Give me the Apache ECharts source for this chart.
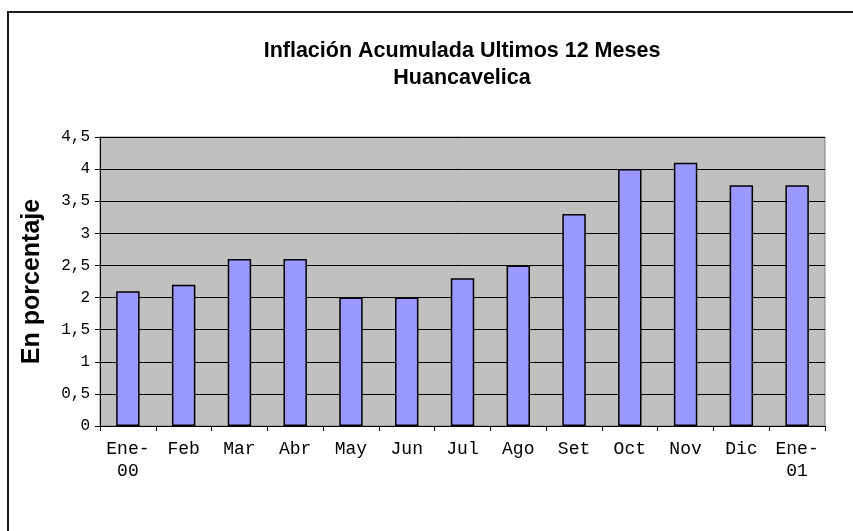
<!DOCTYPE html>
<html>
<head>
<meta charset="utf-8">
<script src="https://cdn.jsdelivr.net/npm/echarts@6/dist/echarts.min.js"></script>
<style>
  html, body { margin: 0; padding: 0; background: #fff; }
  #chart { width: 853px; height: 531px; }
</style>
</head>
<body>
<div id="chart"></div>
<script>
const months = ["Ene-\n00", "Feb", "Mar", "Abr", "May", "Jun", "Jul", "Ago", "Set", "Oct", "Nov", "Dic", "Ene-\n01"];
const inflacion = [2.1, 2.2, 2.6, 2.6, 2.0, 2.0, 2.3, 2.5, 3.3, 4.0, 4.1, 3.75, 3.75];
const titleLines = ["Inflación Acumulada Ultimos 12 Meses", "Huancavelica"];
const yName = "En porcentaje";

const chart = echarts.init(document.getElementById("chart"));

const option = {
  animation: false,
  backgroundColor: "#fff",
  title: {
    text: titleLines.join("\n"),
    left: 462,
    textAlign: "center",
    top: 38,
    padding: 0,
    textStyle: {
      fontFamily: "Liberation Sans, Arial, sans-serif",
      fontWeight: "bold",
      fontSize: 21.5,
      lineHeight: 27,
      color: "#000",
    },
  },
  graphic: [
    {
      type: "rect",
      silent: true,
      shape: { x: 8, y: 12, width: 1000, height: 1000 },
      style: { fill: "none", stroke: "#1a1a1a", lineWidth: 2 },
    },
  ],
  grid: {
    left: 100,
    top: 137,
    right: 28,
    bottom: 105,
    show: true,
    backgroundColor: "#C0C0C0",
    borderColor: "#808080",
    borderWidth: 1,
  },
  xAxis: {
    type: "category",
    data: months,
    axisLine: { lineStyle: { color: "#000", width: 1 } },
    axisTick: { show: true, length: 5, lineStyle: { color: "#000" } },
    axisLabel: {
      interval: 0,
      margin: 12,
      fontFamily: "Liberation Mono, Courier New, monospace",
      fontSize: 18,
      lineHeight: 22,
      color: "#000",
    },
  },
  yAxis: {
    type: "value",
    min: 0,
    max: 4.5,
    interval: 0.5,
    name: yName,
    nameLocation: "middle",
    nameRotate: 90,
    nameGap: 55,
    nameTextStyle: {
      fontFamily: "Liberation Sans, Arial, sans-serif",
      fontWeight: "bold",
      fontSize: 25,
      color: "#000",
    },
    axisLine: { show: true, lineStyle: { color: "#000", width: 1 } },
    axisTick: { show: true, length: 5, lineStyle: { color: "#000" } },
    axisLabel: {
      margin: 10,
      fontFamily: "Liberation Mono, Courier New, monospace",
      fontSize: 16,
      color: "#000",
      formatter: (v) => String(v).replace(".", ","),
    },
    splitLine: { show: true, lineStyle: { color: "#000", width: 1 } },
  },
  series: [
    {
      type: "bar",
      data: inflacion,
      barWidth: "42%",
      itemStyle: {
        color: "#9999FF",
        borderColor: "#000",
        borderWidth: 1.5,
      },
    },
  ],
};

chart.setOption(option);
</script>
</body>
</html>
